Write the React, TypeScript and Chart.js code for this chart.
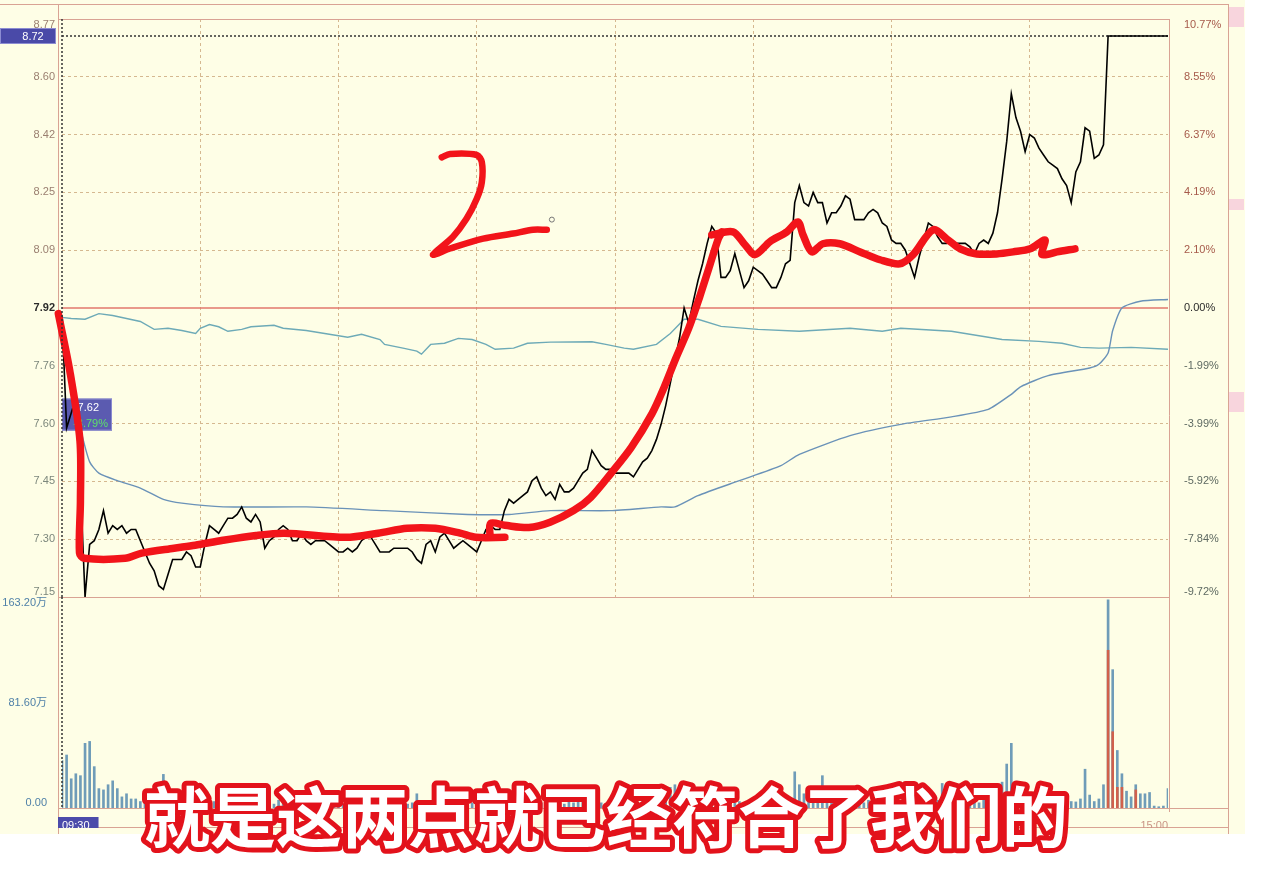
import React, { useEffect, useRef } from 'react';
import { Chart, registerables } from 'chart.js';

Chart.register(...registerables);

// ---------- data ----------
const PREV_CLOSE = 7.92;
const PRICE_TICKS = [7.15, 7.30, 7.45, 7.60, 7.76, 7.92, 8.09, 8.25, 8.42, 8.60, 8.77];
const PCT_TICKS = [-9.72, -7.84, -5.92, -3.99, -1.99, 0.0, 2.10, 4.19, 6.37, 8.55, 10.77];
const VOL_TICKS = [0, 81.6, 163.2];
const TIME_LABELS = ['09:30', '15:00'];
const SESSION_MINUTES = 240;

// minute-by-minute last price (09:30 .. 15:00, 241 points)
const PRICE = [
  7.90, 7.60, 7.64, 7.68, 7.45, 7.15, 7.29, 7.30, 7.33, 7.38,
  7.32, 7.34, 7.33, 7.34, 7.32, 7.33, 7.33, 7.30, 7.27, 7.24,
  7.22, 7.18, 7.17, 7.21, 7.25, 7.25, 7.25, 7.27, 7.26, 7.23,
  7.23, 7.29, 7.34, 7.33, 7.32, 7.34, 7.36, 7.36, 7.37, 7.39,
  7.36, 7.35, 7.37, 7.35, 7.28, 7.30, 7.31, 7.33, 7.34, 7.33,
  7.30, 7.30, 7.32, 7.30, 7.29, 7.30, 7.30, 7.30, 7.29, 7.28,
  7.27, 7.27, 7.28, 7.27, 7.28, 7.30, 7.31, 7.31, 7.29, 7.27,
  7.27, 7.27, 7.28, 7.28, 7.28, 7.28, 7.27, 7.25, 7.24, 7.29,
  7.30, 7.27, 7.31, 7.32, 7.30, 7.28, 7.29, 7.30, 7.29, 7.28,
  7.27, 7.30, 7.33, 7.34, 7.33, 7.33, 7.38, 7.41, 7.40, 7.41,
  7.42, 7.43, 7.46, 7.47, 7.44, 7.42, 7.43, 7.41, 7.45, 7.43,
  7.43, 7.44, 7.46, 7.48, 7.49, 7.54, 7.52, 7.50, 7.49, 7.49,
  7.48, 7.48, 7.48, 7.48, 7.47, 7.49, 7.51, 7.52, 7.54, 7.57,
  7.61, 7.66, 7.72, 7.78, 7.84, 7.92, 7.88, 7.94, 8.00, 8.05,
  8.11, 8.16, 8.14, 8.01, 8.01, 8.03, 8.08, 8.03, 7.98, 8.00,
  8.04, 8.03, 8.02, 8.00, 7.98, 7.98, 8.01, 8.05, 8.06, 8.23,
  8.28, 8.23, 8.22, 8.26, 8.23, 8.23, 8.17, 8.20, 8.20, 8.22,
  8.25, 8.24, 8.18, 8.18, 8.18, 8.20, 8.21, 8.20, 8.17, 8.16,
  8.12, 8.11, 8.11, 8.09, 8.05, 8.01, 8.07, 8.12, 8.17, 8.16,
  8.13, 8.11, 8.11, 8.12, 8.11, 8.11, 8.11, 8.10, 8.08, 8.11,
  8.12, 8.11, 8.14, 8.20, 8.30, 8.41, 8.55, 8.48, 8.44, 8.38,
  8.43, 8.42, 8.39, 8.37, 8.35, 8.34, 8.33, 8.30, 8.28, 8.23,
  8.32, 8.35, 8.45, 8.44, 8.36, 8.37, 8.40, 8.72, 8.72, 8.72,
  8.72, 8.72, 8.72, 8.72, 8.72, 8.72, 8.72, 8.72, 8.72, 8.72,
  8.72,
];

// average price line
const AVG_MIN = [0, 2, 4, 6, 8, 12, 17, 22, 26, 35, 53, 70, 88, 97, 106, 119, 130, 133, 138, 147, 156, 160, 171, 182, 193, 201, 206, 208, 214, 223, 225, 227, 228, 230, 234, 240];
const AVG_PRICE = [7.90, 7.72, 7.60, 7.51, 7.48, 7.46, 7.44, 7.41, 7.40, 7.39, 7.39, 7.38, 7.37, 7.37, 7.38, 7.38, 7.39, 7.39, 7.42, 7.46, 7.50, 7.53, 7.58, 7.61, 7.63, 7.65, 7.69, 7.71, 7.74, 7.76, 7.77, 7.80, 7.86, 7.92, 7.94, 7.945];

// index overlay line (scaled to price)
const INDEX_MIN = [0, 2, 5, 8, 11, 14, 17, 20, 23, 26, 29, 30, 32, 34, 36, 39, 41, 46, 48, 53, 57, 62, 65, 69, 70, 74, 77, 78, 80, 83, 86, 89, 92, 94, 98, 101, 106, 115, 118, 122, 124, 129, 132, 135, 138, 143, 151, 160, 171, 178, 182, 193, 204, 212, 217, 221, 225, 232, 240];
const INDEX_PRICE = [7.895, 7.892, 7.89, 7.905, 7.90, 7.892, 7.884, 7.863, 7.866, 7.86, 7.852, 7.866, 7.876, 7.87, 7.858, 7.863, 7.87, 7.874, 7.866, 7.86, 7.852, 7.842, 7.85, 7.836, 7.823, 7.813, 7.805, 7.797, 7.823, 7.826, 7.839, 7.836, 7.823, 7.81, 7.813, 7.826, 7.829, 7.83, 7.823, 7.813, 7.81, 7.823, 7.852, 7.89, 7.89, 7.871, 7.863, 7.858, 7.866, 7.858, 7.866, 7.858, 7.836, 7.831, 7.826, 7.815, 7.813, 7.815, 7.81];

// volume per minute (万)
const VOLUME = [
  36.7, 41, 22.6, 26.5, 25, 50, 51.5, 32, 15, 14,
  18, 21, 15, 8.6, 11, 7, 7, 5, 6, 4,
  3, 8, 26, 6, 4, 5, 3, 4, 6, 3,
  5, 4, 3, 5, 6, 3, 2, 4, 3, 5,
  4, 6, 3, 2, 5, 4, 3, 6, 4, 3,
  2, 4, 5, 3, 2, 4, 3, 5, 4, 3,
  2, 3, 4, 2, 5, 3, 4, 6, 3, 2,
  4, 5, 3, 2, 4, 3, 4, 11, 2, 5,
  3, 4, 3, 2, 5, 3, 4, 2, 3, 4,
  3, 5, 4, 6, 3, 5, 8, 9, 6, 5,
  4, 6, 5, 7, 4, 3, 5, 4, 6, 3,
  5, 4, 6, 5, 7, 8, 5, 4, 3, 4,
  5, 3, 4, 5, 3, 4, 6, 7, 8, 9,
  12, 14, 16, 18, 15, 12, 10, 9, 8, 7,
  6, 5, 6, 4, 5, 3, 4, 5, 3, 4,
  3, 5, 4, 3, 4, 5, 4, 3, 6, 28,
  18, 11, 6, 5, 7, 25, 6, 5, 4, 6,
  5, 4, 3, 5, 4, 6, 3, 4, 5, 3,
  4, 5, 3, 4, 6, 5, 4, 7, 5, 4,
  6, 19, 5, 4, 6, 5, 4, 3, 5, 4,
  6, 5, 4, 8, 20, 34, 50, 6, 5, 4,
  6, 5, 4, 3, 5, 4, 6, 3, 4, 5,
  4.7, 7, 30, 10, 5, 7, 18, 161, 107, 44.5,
  26.5, 13, 8.6, 18, 11, 11, 12, 1.5, 1, 1.5,
  15,
];
const VOL_RED_MIN = [227, 228, 229, 230, 233];
const VOL_RED = [122, 59, 16, 16, 14];

const CROSS_PRICE = 8.72;
const TIP_PRICE = 7.62;
const TIP_PCT = -3.79;

// hand-drawn red marker strokes (minute, price)
const STROKE1_MIN = [-0.8, 1.7, 3.9, 4.0, 3.8, 4.8, 13.7, 17.3, 24.3, 28.9, 34.9, 42.1, 48.3, 61.6, 68.6, 74.9, 81.0, 86.4, 89.8, 96.1];
const STROKE1_PRICE = [7.905, 7.752, 7.566, 7.407, 7.267, 7.253, 7.253, 7.267, 7.280, 7.288, 7.301, 7.314, 7.320, 7.309, 7.320, 7.333, 7.333, 7.320, 7.309, 7.309];
const STROKE2_MIN = [92.9, 93.0, 96.1, 101.3, 105.9, 111.1, 114.7, 119.1, 123.5, 128.0, 130.6, 133.2, 136.0, 138.4, 140.6, 142.4, 143.2];
const STROKE2_PRICE = [7.309, 7.346, 7.341, 7.335, 7.349, 7.381, 7.415, 7.479, 7.548, 7.638, 7.707, 7.786, 7.866, 7.954, 8.047, 8.123, 8.144];
const STROKE3_MIN = [141.0, 145.6, 148.2, 150.4, 153.6, 157.3, 159.7, 160.8, 162.7, 165.1, 168.8, 173.2, 177.5, 181.8, 184.7, 189.0, 192.0, 194.9, 198.5, 202.8, 206.4, 210.1, 213.3, 212.6, 213.7, 215.9, 219.8];
const STROKE3_PRICE = [8.135, 8.144, 8.106, 8.077, 8.115, 8.144, 8.173, 8.135, 8.085, 8.109, 8.109, 8.085, 8.062, 8.050, 8.077, 8.150, 8.123, 8.094, 8.079, 8.079, 8.085, 8.094, 8.120, 8.079, 8.077, 8.085, 8.094];
const DIGIT2_MIN = [82.4, 84.2, 90.0, 91.1, 91.1, 90.0, 87.8, 84.8, 80.5, 84.2, 91.4, 97.9, 102.2, 105.2];
const DIGIT2_PRICE = [8.363, 8.373, 8.370, 8.349, 8.290, 8.241, 8.183, 8.129, 8.077, 8.095, 8.124, 8.139, 8.150, 8.150];
const DOT_MIN = [106.3];
const DOT_PRICE = [8.18];

const SUBTITLE = '就是这两点就已经符合了我们的';

// ---------- styling / layout ----------
const W = 1280;
const H = 884;
const CREAM = '#FEFEE6';
const FRAME = '#D9A394';
const GRID = '#D5B890';
const BASE_RED = '#E2776C';
const MARK_RED = '#F2141A';
const AXIS_FONT = '"Liberation Sans", "Noto Sans CJK SC", Arial, sans-serif';
const PRICE_TOP = 16;
const PRICE_BOTTOM = 597;
const VOL_BOTTOM = 808;
const AXIS_BOTTOM = 827;
const LEFT_AXIS_W = 62;
const RIGHT_AXIS_W = 112;

const TOP_P = PRICE_TICKS[PRICE_TICKS.length - 1];
const BOT_P = PRICE_TICKS[0];
const MID = (PRICE_TICKS.length - 1) / 2;
function toUnit(p: number): number {
  return p >= PREV_CLOSE
    ? MID + ((p - PREV_CLOSE) / (TOP_P - PREV_CLOSE)) * MID
    : MID - ((PREV_CLOSE - p) / (PREV_CLOSE - BOT_P)) * MID;
}
const pts = (xs: number[], ys: number[]) => xs.map((x, i) => ({ x, y: toUnit(ys[i]) }));

const hline = (ctx: CanvasRenderingContext2D, x1: number, x2: number, y: number) => {
  ctx.beginPath();
  ctx.moveTo(x1, Math.round(y) + 0.5);
  ctx.lineTo(x2, Math.round(y) + 0.5);
  ctx.stroke();
};
const vline = (ctx: CanvasRenderingContext2D, x: number, y1: number, y2: number) => {
  ctx.beginPath();
  ctx.moveTo(Math.round(x) + 0.5, y1);
  ctx.lineTo(Math.round(x) + 0.5, y2);
  ctx.stroke();
};

const priceDecor = {
  id: 'priceDecor',
  beforeDraw(chart: any) {
    const ctx = chart.ctx as CanvasRenderingContext2D;
    ctx.save();
    ctx.fillStyle = '#FFFFFF';
    ctx.fillRect(0, 0, chart.width, chart.height);
    ctx.fillStyle = CREAM;
    ctx.fillRect(0, 0, 1245, 834);
    ctx.fillStyle = '#F8D5DD';
    ctx.fillRect(1229, 7, 15, 20);
    ctx.fillRect(1229, 199, 15, 11);
    ctx.fillRect(1229, 392, 15, 20);
    ctx.restore();
  },
  beforeDatasetsDraw(chart: any) {
    const ctx = chart.ctx as CanvasRenderingContext2D;
    const a = chart.chartArea;
    const xs = chart.scales.x;
    const ys = chart.scales.y;
    ctx.save();
    ctx.strokeStyle = FRAME;
    ctx.lineWidth = 1;
    const fl = a.left - 4;
    const outerR = a.right + 60;
    hline(ctx, 0, outerR, 4);
    vline(ctx, fl, 4, 834);
    hline(ctx, fl, a.right + 2, a.top);
    hline(ctx, fl, a.right + 2, a.bottom);
    vline(ctx, a.right + 1, a.top, VOL_BOTTOM + 4);
    vline(ctx, outerR, 4, 834);
    hline(ctx, fl, outerR, VOL_BOTTOM);
    hline(ctx, fl, outerR, AXIS_BOTTOM);

    // tooltip box at the cursor
    const x0 = xs.getPixelForValue(0);
    const yp = ys.getPixelForValue(toUnit(TIP_PRICE));
    ctx.fillStyle = '#5B5BB0';
    ctx.fillRect(x0, yp - 22, 50, 32);
    ctx.strokeStyle = '#8A8AD0';
    ctx.strokeRect(x0 + 0.5, yp - 21.5, 49, 31);
    ctx.font = `11px ${AXIS_FONT}`;
    ctx.textAlign = 'right';
    ctx.textBaseline = 'middle';
    ctx.fillStyle = '#FFFFFF';
    ctx.fillText(TIP_PRICE.toFixed(2), x0 + 37, yp - 13);
    ctx.fillStyle = '#5EE06A';
    ctx.fillText(TIP_PCT.toFixed(2) + '%', x0 + 46, yp + 3);
    ctx.restore();
  },
  afterDraw(chart: any) {
    const ctx = chart.ctx as CanvasRenderingContext2D;
    const a = chart.chartArea;
    const xs = chart.scales.x;
    const ys = chart.scales.y;
    ctx.save();
    // vertical crosshair
    ctx.strokeStyle = '#333333';
    ctx.lineWidth = 1.5;
    ctx.setLineDash([2, 2]);
    const cx = xs.getPixelForValue(0);
    ctx.beginPath();
    ctx.moveTo(cx, a.top);
    ctx.lineTo(cx, a.bottom);
    ctx.stroke();
    ctx.setLineDash([]);
    // crosshair price box
    const cy = ys.getPixelForValue(toUnit(CROSS_PRICE));
    ctx.fillStyle = '#4A4AA8';
    ctx.fillRect(0, cy - 8, a.left - 6, 16);
    ctx.strokeStyle = '#8C8CD2';
    ctx.lineWidth = 1;
    ctx.strokeRect(0.5, cy - 7.5, a.left - 7, 15);
    ctx.fillStyle = '#FFFFFF';
    ctx.font = `11px ${AXIS_FONT}`;
    ctx.textAlign = 'center';
    ctx.textBaseline = 'middle';
    ctx.fillText(CROSS_PRICE.toFixed(2), 33, cy + 0.5);
    ctx.restore();
  },
};

const volDecor = {
  id: 'volDecor',
  afterDraw(chart: any) {
    const ctx = chart.ctx as CanvasRenderingContext2D;
    const a = chart.chartArea;
    const xs = chart.scales.x;
    ctx.save();
    ctx.strokeStyle = '#333333';
    ctx.lineWidth = 1.5;
    ctx.setLineDash([2, 2]);
    const cx = xs.getPixelForValue(0);
    ctx.beginPath();
    ctx.moveTo(cx, a.top);
    ctx.lineTo(cx, a.bottom);
    ctx.stroke();
    ctx.setLineDash([]);

    // subtitle
    ctx.font = `bold 66px "Noto Sans CJK SC", "Noto Sans CJK JP", sans-serif`;
    ctx.textAlign = 'center';
    ctx.textBaseline = 'alphabetic';
    ctx.lineJoin = 'round';
    ctx.lineWidth = 10;
    ctx.strokeStyle = '#E3121B';
    ctx.strokeText(SUBTITLE, 606, 842);
    ctx.fillStyle = '#FFFFFF';
    ctx.fillText(SUBTITLE, 606, 842);
    ctx.restore();
  },
};

const tickFont = (weight: string = 'normal') => ({ family: AXIS_FONT, size: 11, lineHeight: 1, weight });

export default function App() {
  const priceRef = useRef<HTMLCanvasElement>(null);
  const volRef = useRef<HTMLCanvasElement>(null);

  useEffect(() => {
    document.body.style.margin = '0';
    const last = PRICE_TICKS.length - 1;
    const markerStyle = {
      borderColor: MARK_RED,
      borderWidth: 7.5,
      pointRadius: 0,
      tension: 0.3,
      borderCapStyle: 'round' as const,
      borderJoinStyle: 'round' as const,
      clip: false as any,
      order: 0,
    };

    const priceChart = new Chart(priceRef.current!, {
      type: 'line',
      data: {
        datasets: [
          { ...markerStyle, borderWidth: 6.5, data: pts(DIGIT2_MIN, DIGIT2_PRICE) },
          { ...markerStyle, data: pts(STROKE1_MIN, STROKE1_PRICE) },
          { ...markerStyle, data: pts(STROKE2_MIN, STROKE2_PRICE) },
          { ...markerStyle, data: pts(STROKE3_MIN, STROKE3_PRICE) },
          {
            data: pts(DOT_MIN, DOT_PRICE),
            showLine: false,
            pointRadius: 2.5,
            pointBorderWidth: 1,
            pointBorderColor: '#777777',
            pointBackgroundColor: CREAM,
            order: 0,
          },
          {
            data: PRICE.map((p, i) => ({ x: i, y: toUnit(p) })),
            borderColor: '#000000',
            borderWidth: 1.6,
            pointRadius: 0,
            tension: 0,
            order: 1,
          },
          {
            data: pts(AVG_MIN, AVG_PRICE),
            borderColor: '#6A92B8',
            borderWidth: 1.4,
            pointRadius: 0,
            tension: 0.2,
            order: 2,
          },
          {
            data: pts(INDEX_MIN, INDEX_PRICE),
            borderColor: '#6DAAB7',
            borderWidth: 1.4,
            pointRadius: 0,
            tension: 0,
            order: 3,
          },
          {
            data: [
              { x: 0, y: toUnit(CROSS_PRICE) },
              { x: SESSION_MINUTES, y: toUnit(CROSS_PRICE) },
            ],
            borderColor: '#333333',
            borderWidth: 1.5,
            borderDash: [2, 2],
            pointRadius: 0,
            order: 4,
          },
          {
            data: [
              { x: 0, y: toUnit(PREV_CLOSE) },
              { x: SESSION_MINUTES, y: toUnit(PREV_CLOSE) },
            ],
            borderColor: BASE_RED,
            borderWidth: 1.5,
            pointRadius: 0,
            order: 5,
          },
        ],
      },
      options: {
        responsive: false,
        animation: false,
        events: [],
        layout: { padding: { top: PRICE_TOP, bottom: H - PRICE_BOTTOM, left: 0, right: 0 } },
        plugins: { legend: { display: false }, tooltip: { enabled: false } },
        scales: {
          x: {
            type: 'linear',
            min: 0,
            max: SESSION_MINUTES,
            afterFit: (s: any) => {
              s.height = 0;
            },
            ticks: { display: false, stepSize: 30 },
            grid: {
              drawTicks: false,
              color: (c: any) =>
                c.tick && (c.tick.value === 0 || c.tick.value === SESSION_MINUTES) ? 'rgba(0,0,0,0)' : GRID,
            },
            border: { display: false, dash: [3, 3] },
          },
          y: {
            type: 'linear',
            position: 'left',
            min: 0,
            max: last,
            afterFit: (s: any) => {
              s.width = LEFT_AXIS_W;
            },
            afterBuildTicks: (s: any) => {
              s.ticks = PRICE_TICKS.map((_, i) => ({ value: i }));
            },
            grid: {
              drawTicks: false,
              color: (c: any) =>
                c.tick && (c.tick.value === 0 || c.tick.value === MID || c.tick.value === last) ? 'rgba(0,0,0,0)' : GRID,
            },
            border: { display: false, dash: [3, 3] },
            ticks: {
              padding: 7,
              color: (c: any) => (c.tick.value > MID ? '#9A7F70' : c.tick.value === MID ? '#2A2A2A' : '#7C877C'),
              font: (c: any) => tickFont(c.tick && c.tick.value === MID ? 'bold' : 'normal'),
              callback: (v: any) => {
                const s = PRICE_TICKS[v].toFixed(2);
                return v === last ? ['', s] : v === 0 ? [s, ''] : s;
              },
            },
          },
          y2: {
            type: 'linear',
            position: 'right',
            min: 0,
            max: last,
            afterFit: (s: any) => {
              s.width = RIGHT_AXIS_W;
            },
            afterBuildTicks: (s: any) => {
              s.ticks = PCT_TICKS.map((_, i) => ({ value: i }));
            },
            grid: { display: false },
            border: { display: false },
            ticks: {
              padding: 8,
              color: (c: any) => (c.tick.value > MID ? '#A65A4A' : c.tick.value === MID ? '#2A2A2A' : '#5E6A62'),
              font: tickFont(),
              callback: (v: any) => {
                const s = PCT_TICKS[v].toFixed(2) + '%';
                return v === last ? ['', s] : v === 0 ? [s, ''] : s;
              },
            },
          },
        },
      },
      plugins: [priceDecor],
    } as any);

    const volChart = new Chart(volRef.current!, {
      type: 'bar',
      data: {
        datasets: [
          {
            data: VOL_RED_MIN.map((m, i) => ({ x: m, y: VOL_RED[i] })),
            backgroundColor: '#D0604C',
            barThickness: 2,
            grouped: false,
            order: 0,
          },
          {
            data: VOLUME.map((v, i) => ({ x: i, y: v })),
            backgroundColor: '#6F9CB8',
            barThickness: 2,
            grouped: false,
            order: 1,
          },
        ],
      },
      options: {
        responsive: false,
        animation: false,
        events: [],
        layout: { padding: { top: PRICE_BOTTOM, bottom: H - VOL_BOTTOM - 20, left: 0, right: RIGHT_AXIS_W } },
        plugins: { legend: { display: false }, tooltip: { enabled: false } },
        scales: {
          x: {
            type: 'linear',
            min: 0,
            max: SESSION_MINUTES,
            offset: false,
            afterFit: (s: any) => {
              s.height = 20;
            },
            afterBuildTicks: (s: any) => {
              s.ticks = [{ value: 0 }, { value: SESSION_MINUTES }];
            },
            grid: { display: false, offset: false },
            border: { display: false },
            ticks: {
              align: 'inner',
              padding: 4,
              autoSkip: false,
              maxRotation: 0,
              font: tickFont(),
              callback: (v: any) => (v === 0 ? TIME_LABELS[0] : TIME_LABELS[1]),
              color: (c: any) => (c.index === 0 ? '#FFFFFF' : '#C99585'),
              showLabelBackdrop: true,
              backdropColor: (c: any) => (c.index === 0 ? '#4B4BAA' : 'rgba(0,0,0,0)'),
              backdropPadding: { left: 4, right: 9, top: 3, bottom: 3 },
            },
          },
          y: {
            type: 'linear',
            position: 'left',
            min: 0,
            max: VOL_TICKS[VOL_TICKS.length - 1],
            afterFit: (s: any) => {
              s.width = LEFT_AXIS_W;
            },
            afterBuildTicks: (s: any) => {
              s.ticks = VOL_TICKS.map((v) => ({ value: v }));
            },
            grid: { display: false },
            border: { display: false },
            ticks: {
              padding: 7,
              color: '#4F80A8',
              font: tickFont(),
              callback: (v: any) => {
                if (v === 0) return ['0.00', ''];
                const s = Number(v).toFixed(2) + '万';
                return v === VOL_TICKS[VOL_TICKS.length - 1] ? ['', s] : s;
              },
            },
          },
        },
      },
      plugins: [volDecor],
    } as any);

    return () => {
      priceChart.destroy();
      volChart.destroy();
    };
  }, []);

  return (
    <div style={{ position: 'fixed', left: 0, top: 0, width: W, height: H, background: '#FFFFFF', overflow: 'hidden' }}>
      <canvas ref={priceRef} width={W} height={H} style={{ position: 'absolute', left: 0, top: 0 }} />
      <canvas ref={volRef} width={W} height={H} style={{ position: 'absolute', left: 0, top: 0 }} />
    </div>
  );
}
